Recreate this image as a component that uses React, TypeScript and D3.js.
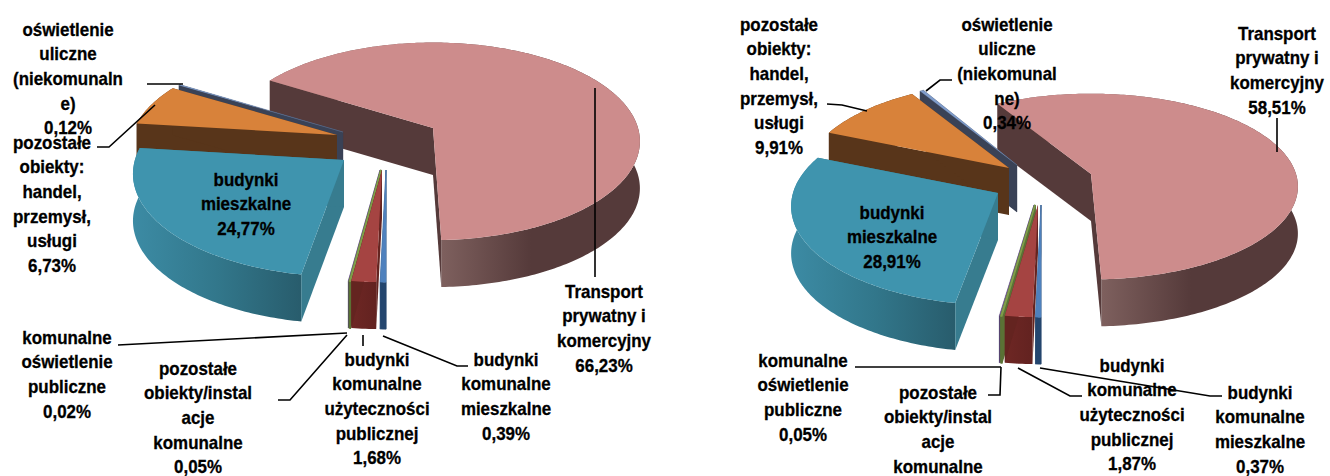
import React from "react";
import * as d3 from "d3";

// ---- data ----
const categories = [
  "Transport prywatny i komercyjny",
  "budynki komunalne mieszkalne",
  "budynki komunalne użyteczności publicznej",
  "pozostałe obiekty/instalacje komunalne",
  "komunalne oświetlenie publiczne",
  "budynki mieszkalne",
  "pozostałe obiekty: handel, przemysł, usługi",
  "oświetlenie uliczne (niekomunalne)",
];
const valuesLeft = [66.23, 0.39, 1.68, 0.05, 0.02, 24.77, 6.73, 0.12];
const valuesRight = [58.51, 0.37, 1.87, 0.05, 0.05, 28.91, 9.91, 0.34];

const labelsLeft = [
  ["Transport", "prywatny i", "komercyjny", "66,23%"],
  ["budynki", "komunalne", "mieszkalne", "0,39%"],
  ["budynki", "komunalne", "użyteczności", "publicznej", "1,68%"],
  ["pozostałe", "obiekty/instal", "acje", "komunalne", "0,05%"],
  ["komunalne", "oświetlenie", "publiczne", "0,02%"],
  ["budynki", "mieszkalne", "24,77%"],
  ["pozostałe", "obiekty:", "handel,", "przemysł,", "usługi", "6,73%"],
  ["oświetlenie", "uliczne", "(niekomunaln", "e)", "0,12%"],
];
const labelsRight = [
  ["Transport", "prywatny i", "komercyjny", "58,51%"],
  ["budynki", "komunalne", "mieszkalne", "0,37%"],
  ["budynki", "komunalne", "użyteczności", "publicznej", "1,87%"],
  ["pozostałe", "obiekty/instal", "acje", "komunalne"],
  ["komunalne", "oświetlenie", "publiczne", "0,05%"],
  ["budynki", "mieszkalne", "28,91%"],
  ["pozostałe", "obiekty:", "handel,", "przemysł,", "usługi", "9,91%"],
  ["oświetlenie", "uliczne", "(niekomunal", "ne)", "0,34%"],
];

// ---- styling & layout ----
const topColors = ["#cd8c8c", "#4f81bd", "#a54442", "#7f9d4a", "#7a5f9c", "#3f94ae", "#d8823a", "#7f9ccb"];
const radialColors = ["#553a3a", "#24466f", "#642420", "#5a7235", "#4f3c6c", "#377c8f", "#58351a", "#3a4256"];
const wallStops = [
  [["0", "#7e605e"], ["0.45", "#553a3a"], ["1", "#553a3a"]],
  [["0", "#24466f"], ["1", "#24466f"]],
  [["0", "#6e2724"], ["1", "#622220"]],
  [["0", "#5a7235"], ["1", "#5a7235"]],
  [["0", "#4f3c6c"], ["1", "#4f3c6c"]],
  [["0", "#3c8ba4"], ["0.5", "#32778b"], ["1", "#285c6c"]],
  [["0", "#58351a"], ["1", "#58351a"]],
  [["0", "#3a4256"], ["1", "#3a4256"]],
];
const thinStroke = [0, 0.5, 0, 1.6, 0.3, 0, 0, 0.2];
const paintOrder = [0, 7, 6, 5, 4, 3, 2, 1];

const RX = 205, RY = 97, K = 0.135;

type Pt = [number, number];
const project = (apex: Pt, angle: number, ry = 1, rx = 1): Pt => {
  const u = Math.sin(angle), v = Math.cos(angle);
  const s = 1 / (1 + K * v);
  return [apex[0] + RX * rx * u * s, apex[1] - RY * ry * v * s];
};
const line = d3.line<Pt>();
const rad = (deg: number) => (deg * Math.PI) / 180;

const apexLeft: Pt[] = [[433, 128], [386, 170], [382, 170], [381, 170], [380, 170], [344, 160], [337, 135], [343, 132]];
const apexRight: Pt[] = [[1091, 174], [1041, 205], [1038, 205], [1035, 205], [1034, 205], [998, 193], [1009, 168], [1017, 165]];
// small corrections of the drawn edge of a slice, in degrees: [start, end]
const nudgeLeft: Pt[] = [[0, -2], [0, 0], [0, 0], [0, 0], [0, 0], [2.5, 0], [0, 0], [0, 0]];
const nudgeRight: Pt[] = [[0, -2.5], [0, 0], [0, 0], [0, 0], [0, 0], [2, 0], [0, 0], [0, 0]];
const ryLeft = [1, 1, 1, 1, 1, 1.04, 1, 1];
const ryRight = [0.94, 1, 1, 1, 1, 1, 1, 1];
const rxLeft = [1, 1, 1, 1, 1, 1.02, 1, 1];
const rxRight = [1, 1, 1, 1, 1, 1, 1, 1];

const leadersLeft: Pt[][] = [
  [[595, 88], [595, 277]],
  [[383, 336], [457, 366], [468, 366]],
  [[363, 335], [363, 346]],
  [[347, 335], [290, 400], [278, 400]],
  [[118, 345], [347, 333]],
  [[147, 84], [183, 84]],
  [[155, 105], [109, 147], [97, 147]],
];
const leadersRight: Pt[][] = [
  [[1277, 118], [1277, 152]],
  [[1040, 368], [1210, 396], [1222, 396]],
  [[1018, 368], [1070, 396], [1082, 396]],
  [[988, 395], [1000, 395], [1001, 367]],
  [[855, 367], [1001, 367]],
  [[827, 104], [842, 105], [867, 111]],
  [[952, 80], [940, 80], [926, 91]],
];

// [centre x, centre y of first line] for each label, in the order of the categories
const labelPosLeft: Pt[] = [[604, 291], [506, 359], [377, 359], [198, 368], [67, 337], [246, 179], [52, 142], [68, 29]];
const labelPosRight: Pt[] = [[1277, 33], [1260, 392], [1132, 365], [938, 392], [803, 360], [892, 212], [779, 24], [1007, 24]];

const LINE_H = 24.7;
const DEPTH = 47;

function Pie({ id, values, apexes, nudges, ryScale, rxScale, leaders, labels, labelPos }: {
  id: string; values: number[]; apexes: Pt[]; nudges: Pt[]; ryScale: number[]; rxScale: number[]; leaders: Pt[][]; labels: string[][]; labelPos: Pt[];
}) {
  const total = d3.sum(values);
  const first = Math.PI - (values[0] / total) * 2 * Math.PI;
  const arcs = d3.pie<number>().sort(null).startAngle(first).endAngle(first + 2 * Math.PI)(values);

  const shapes = paintOrder.map((i) => {
    const a = arcs[i];
    const apex = apexes[i];
    const start = a.startAngle + rad(nudges[i][0]);
    const end = a.endAngle + rad(nudges[i][1]);
    const n = Math.max(2, Math.ceil((end - start) * 60));
    const arcPts: Pt[] = d3.range(n + 1).map((k) => project(apex, start + ((end - start) * k) / n, ryScale[i], rxScale[i]));
    const down = (p: Pt): Pt => [p[0], p[1] + DEPTH];
    const xs = arcPts.map((p) => p[0]);
    const gx1 = i === 0 ? arcPts[n][0] : d3.min(xs)!;
    const gx2 = i === 0 ? arcPts[n][0] + 200 : d3.max(xs)! + 1;
    return {
      i, gx1, gx2,
      top: [apex, ...arcPts],
      wall: [...arcPts, ...arcPts.slice().reverse().map(down)],
      radialA: [apex, arcPts[0], down(arcPts[0]), down(apex)],
      radialB: [apex, arcPts[n], down(arcPts[n]), down(apex)],
    };
  });

  return (
    <g>
      <defs>
        {shapes.map((s) => (
          <linearGradient key={s.i} id={`${id}-w${s.i}`} gradientUnits="userSpaceOnUse" x1={s.gx1} x2={s.gx2} y1={0} y2={0}>
            {wallStops[s.i].map(([o, c]) => <stop key={o} offset={o} stopColor={c} />)}
          </linearGradient>
        ))}
      </defs>
      {shapes.map((s) => {
        const sw = thinStroke[s.i];
        const rc = radialColors[s.i];
        return (
          <g key={s.i}>
            <path d={line(s.wall)! + "Z"} fill={`url(#${id}-w${s.i})`} stroke={sw ? rc : "none"} strokeWidth={sw} />
            <path d={line(s.radialA)! + "Z"} fill={rc} stroke={rc} strokeWidth={sw} />
            <path d={line(s.radialB)! + "Z"} fill={rc} stroke={rc} strokeWidth={sw} />
            <path d={line(s.top)! + "Z"} fill={topColors[s.i]} stroke={sw ? topColors[s.i] : "none"} strokeWidth={sw} />
          </g>
        );
      })}
      {leaders.map((pts, i) => (
        <path key={i} d={line(pts)!} fill="none" stroke="#000" strokeWidth={1.6} />
      ))}
      {labels.map((lines, i) => (
        <g key={i}>
          {lines.map((t, j) => (
            <text key={j} textAnchor="middle" fontFamily="'Liberation Sans', Arial, sans-serif"
              fontWeight="bold" fontSize={18.6} fill="#000" stroke="#000" strokeWidth={0.3}
              transform={`translate(${labelPos[i][0]},${labelPos[i][1] + 6.5 + j * LINE_H}) scale(0.91,1)`}>
              {t}
            </text>
          ))}
        </g>
      ))}
    </g>
  );
}

export default function App() {
  return (
    <svg width={1330} height={476} viewBox="0 0 1330 476" role="img" aria-label={categories.join(", ")}
      style={{ position: "absolute", left: 0, top: 0, background: "#fff" }}>
      <Pie id="l" values={valuesLeft} apexes={apexLeft} nudges={nudgeLeft} ryScale={ryLeft} rxScale={rxLeft} leaders={leadersLeft} labels={labelsLeft} labelPos={labelPosLeft} />
      <Pie id="r" values={valuesRight} apexes={apexRight} nudges={nudgeRight} ryScale={ryRight} rxScale={rxRight} leaders={leadersRight} labels={labelsRight} labelPos={labelPosRight} />
    </svg>
  );
}
